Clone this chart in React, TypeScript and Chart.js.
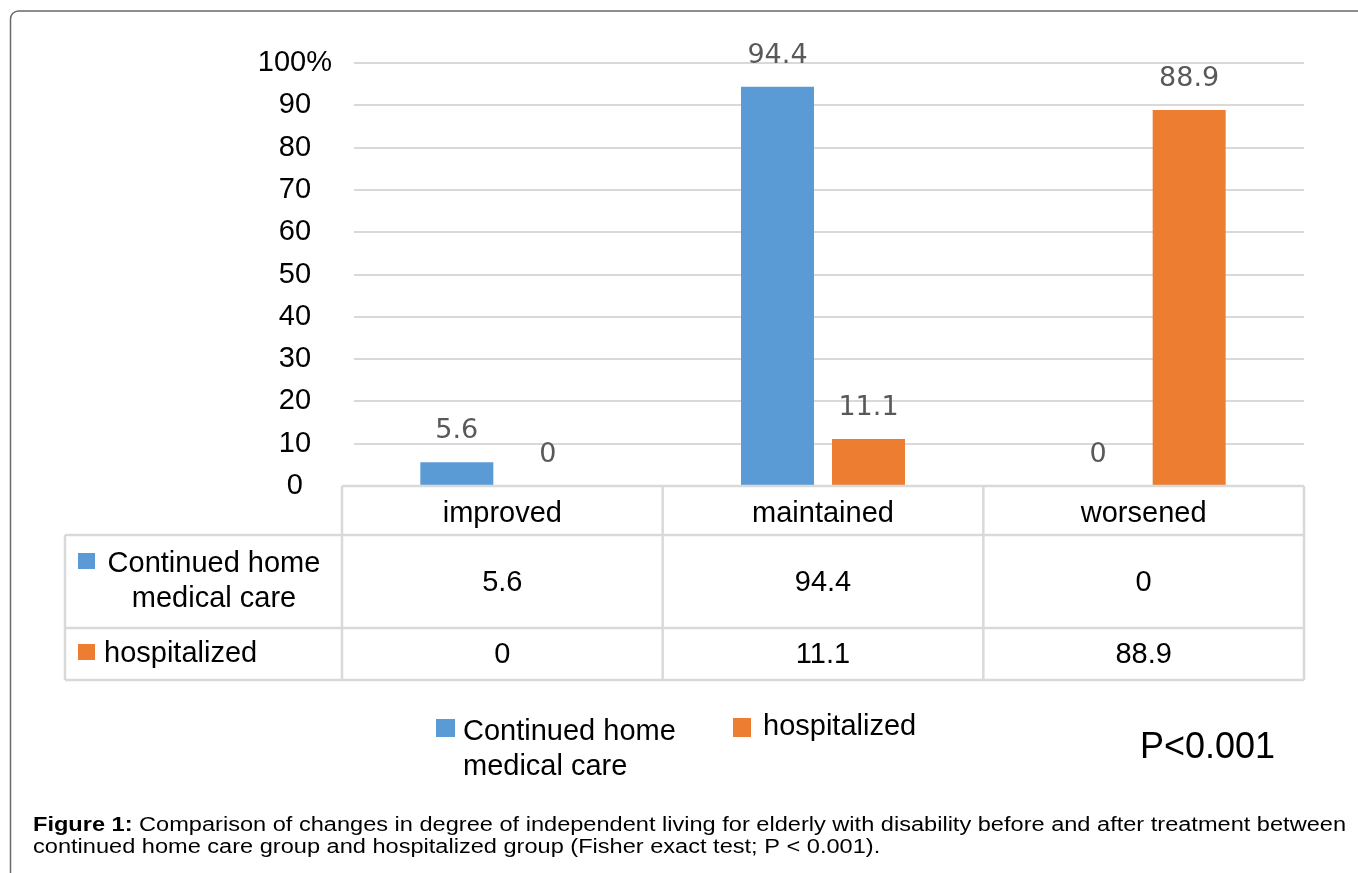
import React, { useEffect, useRef } from "react";
import { Chart, registerables } from "chart.js";

Chart.register(...registerables);

// ---- data ----
const categories = ["improved", "maintained", "worsened"];
const homeCareName = "Continued home medical care";
const homeCareLines = ["Continued home", "medical care"];
const hospitalizedName = "hospitalized";
const homeCareValues = [5.6, 94.4, 0];
const hospitalizedValues = [0, 11.1, 88.9];
const yTickStep = 10;
const yTopLabel = "100%";
const pValueText = "P<0.001";
const captionBold = "Figure 1:";
const captionLine1 =
  " Comparison of changes in degree of independent living for elderly with disability before and after treatment between";
const captionLine2 =
  "continued home care group and hospitalized group (Fisher exact test; P < 0.001).";

const BLUE = "#5B9BD5";
const ORANGE = "#ED7D31";
const GRID = "#d9d9d9";
const SANS = '"Liberation Sans", Arial, sans-serif';
const LABEL_FONT = '"DejaVu Sans", sans-serif';

function text(
  ctx: CanvasRenderingContext2D,
  s: string,
  x: number,
  cy: number,
  size: number,
  align: CanvasTextAlign = "left",
  color = "#000",
  family = SANS,
  weight = "",
  capRatio = 0.358
) {
  ctx.font = `${weight ? weight + " " : ""}${size}px ${family}`;
  ctx.textAlign = align;
  ctx.textBaseline = "alphabetic";
  ctx.fillStyle = color;
  ctx.fillText(s, x, cy + size * capRatio);
}

const decorPlugin = {
  id: "decor",
  beforeDraw(chart: any) {
    const ctx = chart.ctx as CanvasRenderingContext2D;
    ctx.save();
    ctx.fillStyle = "#fff";
    ctx.fillRect(0, 0, chart.width, chart.height);
    // outer frame (top and left, rounded corner)
    ctx.strokeStyle = "#6a6a6a";
    ctx.lineWidth = 1.5;
    ctx.beginPath();
    ctx.moveTo(10.5, chart.height);
    ctx.lineTo(10.5, 19);
    ctx.arcTo(10.5, 11, 18.5, 11, 8);
    ctx.lineTo(chart.width, 11);
    ctx.stroke();
    ctx.restore();
  },
  beforeDatasetsDraw(chart: any) {
    const ctx = chart.ctx as CanvasRenderingContext2D;
    const y = chart.scales.y;
    const area = chart.chartArea;
    ctx.save();
    ctx.strokeStyle = GRID;
    ctx.lineWidth = 2;
    for (const t of y.ticks) {
      if (t.value === 0) continue;
      const py = Math.round(y.getPixelForValue(t.value));
      ctx.beginPath();
      ctx.moveTo(area.left + 12, py);
      ctx.lineTo(area.right, py);
      ctx.stroke();
    }
    ctx.restore();
  },
  afterDatasetsDraw(chart: any) {
    const ctx = chart.ctx as CanvasRenderingContext2D;
    ctx.save();
    chart.data.datasets.forEach((ds: any, di: number) => {
      const meta = chart.getDatasetMeta(di);
      meta.data.forEach((el: any, i: number) => {
        const v = ds.data[i];
        text(ctx, String(v), el.x, el.y - 34, 27, "center", "#595959", LABEL_FONT, "", 0.365);
      });
    });
    ctx.restore();
  },
  afterDraw(chart: any) {
    const ctx = chart.ctx as CanvasRenderingContext2D;
    const xs = chart.scales.x;
    const area = chart.chartArea;
    const half = (xs.getPixelForValue(1) - xs.getPixelForValue(0)) / 2;
    const left = 65;
    const rowTop = area.bottom;
    const r1 = 535;
    const r2 = 628;
    const r3 = 680;
    ctx.save();
    ctx.strokeStyle = GRID;
    ctx.lineWidth = 2.5;
    const line = (x1: number, y1: number, x2: number, y2: number) => {
      ctx.beginPath();
      ctx.moveTo(x1, y1);
      ctx.lineTo(x2, y2);
      ctx.stroke();
    };
    line(area.left, rowTop, area.right, rowTop);
    line(left, r1, area.right, r1);
    line(left, r2, area.right, r2);
    line(left, r3, area.right, r3);
    line(left, r1, left, r3);
    line(area.left, rowTop, area.left, r3);
    categories.forEach((_, i) => {
      const cx = xs.getPixelForValue(i);
      line(cx + half, rowTop, cx + half, r3);
    });
    // table texts
    categories.forEach((c, i) => {
      const cx = xs.getPixelForValue(i);
      text(ctx, c, cx, 512, 29, "center");
      text(ctx, String(homeCareValues[i]), cx, 581, 29, "center");
      text(ctx, String(hospitalizedValues[i]), cx, 653, 29, "center");
    });
    // row headers
    ctx.fillStyle = BLUE;
    ctx.fillRect(78, 553, 17, 16);
    text(ctx, homeCareLines[0], 214, 562, 29, "center");
    text(ctx, homeCareLines[1], 214, 597, 29, "center");
    ctx.fillStyle = ORANGE;
    ctx.fillRect(78, 644, 17, 16);
    text(ctx, hospitalizedName, 104, 652, 29, "left");

    // legend
    ctx.fillStyle = BLUE;
    ctx.fillRect(436, 719, 19, 18);
    text(ctx, homeCareLines[0], 463, 730, 29, "left");
    text(ctx, homeCareLines[1], 463, 765, 29, "left");
    ctx.fillStyle = ORANGE;
    ctx.fillRect(733, 718, 18, 19);
    text(ctx, hospitalizedName, 763, 725, 29, "left");

    // p value
    text(ctx, pValueText, 1140, 745, 36, "left");

    // caption (slightly stretched horizontally, as in the reference)
    const capX = 33;
    const capRight = 1346;
    ctx.font = `bold 20px ${SANS}`;
    const bw = ctx.measureText(captionBold).width;
    ctx.font = `20px ${SANS}`;
    const rw = ctx.measureText(captionLine1).width;
    const sx = (capRight - capX) / (bw + rw);
    ctx.translate(capX, 0);
    ctx.scale(sx, 1);
    ctx.textAlign = "left";
    ctx.textBaseline = "alphabetic";
    ctx.fillStyle = "#000";
    ctx.font = `bold 20px ${SANS}`;
    ctx.fillText(captionBold, 0, 831);
    ctx.font = `20px ${SANS}`;
    ctx.fillText(captionLine1, bw, 831);
    ctx.fillText(captionLine2, 0, 853);
    ctx.restore();
  },
};

export default function App() {
  const ref = useRef<HTMLCanvasElement | null>(null);
  useEffect(() => {
    if (!ref.current) return;
    const chart = new Chart(ref.current, {
      type: "bar",
      data: {
        labels: categories,
        datasets: [
          {
            label: homeCareName,
            data: homeCareValues,
            backgroundColor: BLUE,
            categoryPercentage: 0.5676,
            barPercentage: 0.802,
          },
          {
            label: hospitalizedName,
            data: hospitalizedValues,
            backgroundColor: ORANGE,
            categoryPercentage: 0.5676,
            barPercentage: 0.802,
          },
        ],
      },
      options: {
        responsive: false,
        animation: false,
        devicePixelRatio: 1,
        layout: { padding: { left: 0, right: 54, top: 63, bottom: 387 } },
        plugins: { legend: { display: false }, tooltip: { enabled: false } },
        scales: {
          x: { display: false, offset: true },
          y: {
            min: 0,
            max: 100,
            afterFit: (s: any) => {
              s.width = 342;
            },
            border: { display: false },
            grid: { display: false, drawTicks: false },
            ticks: {
              stepSize: yTickStep,
              padding: 10,
              crossAlign: "center",
              color: "#000",
              font: { family: SANS, size: 29 },
              callback: (v: any) => (v === 100 ? yTopLabel : String(v)),
            },
          },
        },
      },
      plugins: [decorPlugin],
    });
    return () => chart.destroy();
  }, []);
  return (
    <div style={{ position: "absolute", left: 0, top: 0, width: 1358, height: 873, background: "#fff" }}>
      <canvas ref={ref} width={1358} height={873} style={{ display: "block" }} />
    </div>
  );
}
